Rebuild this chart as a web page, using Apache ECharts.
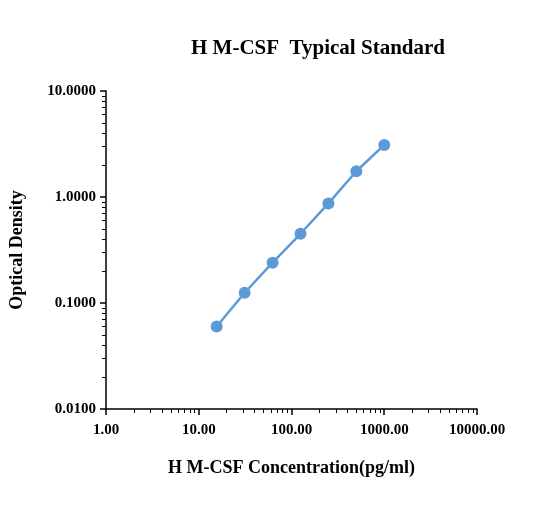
<!DOCTYPE html>
<html><head><meta charset="utf-8">
<script src="https://cdn.jsdelivr.net/npm/echarts@6/dist/echarts.min.js"></script>
</head><body style="margin:0">
<div id="c" style="width:551px;height:512px"></div>
<script>
const concentrations = [15.6, 31.25, 62.5, 125, 250, 500, 1000];
const odValues = [0.060, 0.125, 0.240, 0.450, 0.870, 1.750, 3.100];
const chart = echarts.init(document.getElementById('c'));
const font = 'Liberation Serif';
chart.setOption({
  animation: false,
  title: { text: 'H M-CSF  Typical Standard', left: 313, top: 33, textAlign: 'center',
    textStyle: { fontFamily: font, fontWeight: 'bold', fontSize: 21, color: '#000' } },
  grid: { left: 103, right: 74, top: 91, bottom: 103 },
  xAxis: { type: 'log', min: 1, max: 10000, logBase: 10,
    name: 'H M-CSF Concentration(pg/ml)', nameLocation: 'middle', nameGap: 50,
    nameTextStyle: { fontFamily: font, fontWeight: 'bold', fontSize: 18, color: '#000' },
    axisLine: { lineStyle: { color: '#000', width: 1.5 } },
    axisTick: { lineStyle: { color: '#000', width: 1.5 }, length: 6 },
    minorTick: { show: true, splitNumber: 9, length: 4, lineStyle: { color: '#000' } },
    splitLine: { show: false },
    axisLabel: { fontFamily: font, fontWeight: 'bold', fontSize: 15, color: '#000', margin: 14,
      formatter: v => v.toFixed(2) } },
  yAxis: { type: 'log', min: 0.01, max: 10, logBase: 10,
    name: 'Optical Density', nameLocation: 'middle', nameGap: 80,
    nameTextStyle: { fontFamily: font, fontWeight: 'bold', fontSize: 18, color: '#000' },
    axisLine: { show: true, lineStyle: { color: '#000', width: 1.5 } },
    axisTick: { show: true, lineStyle: { color: '#000', width: 1.5 }, length: 6 },
    minorTick: { show: true, splitNumber: 9, length: 4, lineStyle: { color: '#000' } },
    splitLine: { show: false },
    axisLabel: { fontFamily: font, fontWeight: 'bold', fontSize: 15, color: '#000', margin: 10,
      formatter: v => v.toFixed(4) } },
  series: [{ type: 'line', data: concentrations.map((c, i) => [c, odValues[i]]),
    symbol: 'circle', symbolSize: 12,
    lineStyle: { color: '#5b9bd5', width: 2.5 }, itemStyle: { color: '#5b9bd5' } }]
});
</script></body></html>
